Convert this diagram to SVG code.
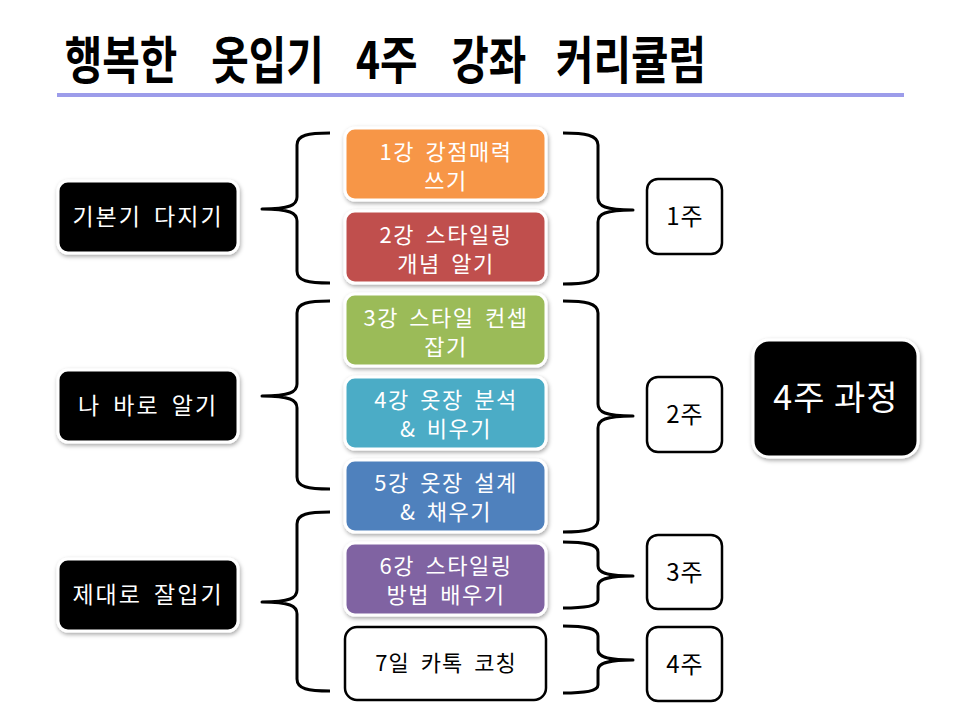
<svg xmlns="http://www.w3.org/2000/svg" width="960" height="720" viewBox="0 0 960 720">
<defs>
<filter id="sh" x="-10%" y="-10%" width="125%" height="130%">
<feDropShadow dx="1" dy="2" stdDeviation="2" flood-color="#000" flood-opacity="0.35"/>
</filter>
<style>
text{font-family:"Malgun Gothic","Noto Sans CJK KR","Noto Sans",sans-serif;text-anchor:middle}
.box{stroke:#fff;stroke-width:3;filter:url(#sh)}
.dark{fill:#000}
.wt{fill:#fff;font-size:22px;letter-spacing:1.5px;word-spacing:4px}
.lt{fill:#fff;font-size:23px;letter-spacing:2px;word-spacing:5px}
.wk{fill:#fff;stroke:#000;stroke-width:2.5}
.bt{fill:#000;font-size:22px;letter-spacing:1px;word-spacing:5px}
.wkt{fill:#000;font-size:24px;letter-spacing:1px}
.br{fill:none;stroke:#000;stroke-width:3;stroke-linejoin:round}
</style>
</defs>
<rect width="960" height="720" fill="#fff"/>
<g id="title">
<text transform="scale(0.8,1)" y="79" style="font-size:51px;font-weight:bold;text-anchor:start;fill:#000"><tspan x="81">행복한 </tspan><tspan x="264">옷입기 </tspan><tspan x="445">4주 </tspan><tspan x="564">강좌 </tspan><tspan x="695">커리큘럼</tspan></text>
<line x1="57" y1="95" x2="904" y2="95" stroke="#9c9cea" stroke-width="4"/>
</g>
<g id="connectors">
<path class="br" d="M330,133 C308,133 297,135 297,145 L297,197 C297,205 290,209 262,209 C290,209 297,213 297,221 L297,271 C297,281 308,283 330,283"/>
<path class="br" d="M330,301 C308,301 297,303 297,313 L297,384 C297,392 290,396 262,396 C290,396 297,400 297,408 L297,477 C297,487 308,489 330,489"/>
<path class="br" d="M330,512 C308,512 297,514 297,524 L297,590 C297,598 290,602 262,602 C290,602 297,606 297,614 L297,679 C297,689 308,691 330,691"/>
<path class="br" d="M563,133 C585,133 598,135 598,145 L598,198 C598,206 605,210 633,210 C605,210 598,214 598,222 L598,272 C598,282 585,284 563,284"/>
<path class="br" d="M563,301 C585,301 598,303 598,313 L598,404 C598,412 605,416 633,416 C605,416 598,420 598,428 L598,520 C598,530 585,532 563,532"/>
<path class="br" d="M563,542 C585,542 598,544 598,552 L598,566 C598,572 605,576 633,576 C605,576 598,580 598,586 L598,600 C598,606 585,608 563,608"/>
<path class="br" d="M563,626 C585,626 598,628 598,636 L598,650 C598,656 605,660 633,660 C605,660 598,664 598,670 L598,685 C598,691 585,693 563,693"/>
</g>
<g id="n-basic"><rect class="box dark" x="58" y="181" width="180" height="72" rx="10"/><text class="lt" x="148" y="225">기본기 다지기</text></g>
<g id="n-know"><rect class="box dark" x="58" y="370" width="180" height="72" rx="10"/><text class="lt" x="148" y="414">나 바로 알기</text></g>
<g id="n-wear"><rect class="box dark" x="58" y="559" width="180" height="72" rx="10"/><text class="lt" x="148" y="603">제대로 잘입기</text></g>
<g id="n-l1"><rect class="box" fill="#f79646" x="345" y="128" width="201" height="72" rx="10"/><text class="wt" x="446" y="160">1강 강점매력</text><text class="wt" x="446" y="189">쓰기</text></g>
<g id="n-l2"><rect class="box" fill="#c0504d" x="345" y="211" width="201" height="72" rx="10"/><text class="wt" x="446" y="243">2강 스타일링</text><text class="wt" x="446" y="272">개념 알기</text></g>
<g id="n-l3"><rect class="box" fill="#9bbb59" x="345" y="294" width="201" height="72" rx="10"/><text class="wt" x="446" y="326">3강 스타일 컨셉</text><text class="wt" x="446" y="355">잡기</text></g>
<g id="n-l4"><rect class="box" fill="#4bacc6" x="345" y="377" width="201" height="72" rx="10"/><text class="wt" x="446" y="408">4강 옷장 분석</text><text class="wt" x="446" y="437">&amp; 비우기</text></g>
<g id="n-l5"><rect class="box" fill="#4f81bd" x="345" y="460" width="201" height="72" rx="10"/><text class="wt" x="446" y="491">5강 옷장 설계</text><text class="wt" x="446" y="520">&amp; 채우기</text></g>
<g id="n-l6"><rect class="box" fill="#8064a2" x="345" y="543" width="201" height="72" rx="10"/><text class="wt" x="446" y="574">6강 스타일링</text><text class="wt" x="446" y="603">방법 배우기</text></g>
<g id="n-l7"><rect class="wk" x="345" y="627" width="201" height="73" rx="12"/><text class="bt" x="446" y="671">7일 카톡 코칭</text></g>
<g id="n-w1"><rect class="wk" x="647" y="179" width="75" height="75" rx="11"/><text class="wkt" x="685" y="225">1주</text></g>
<g id="n-w2"><rect class="wk" x="647" y="377" width="75" height="75" rx="11"/><text class="wkt" x="685" y="423">2주</text></g>
<g id="n-w3"><rect class="wk" x="647" y="535" width="75" height="74" rx="11"/><text class="wkt" x="685" y="581">3주</text></g>
<g id="n-w4"><rect class="wk" x="647" y="627" width="75" height="74" rx="11"/><text class="wkt" x="685" y="673">4주</text></g>
<g id="n-total"><rect class="box dark" x="753" y="340" width="165" height="117" rx="16"/><text x="836" y="410" style="fill:#fff;font-size:34px;letter-spacing:1px">4주 과정</text></g>
</svg>
